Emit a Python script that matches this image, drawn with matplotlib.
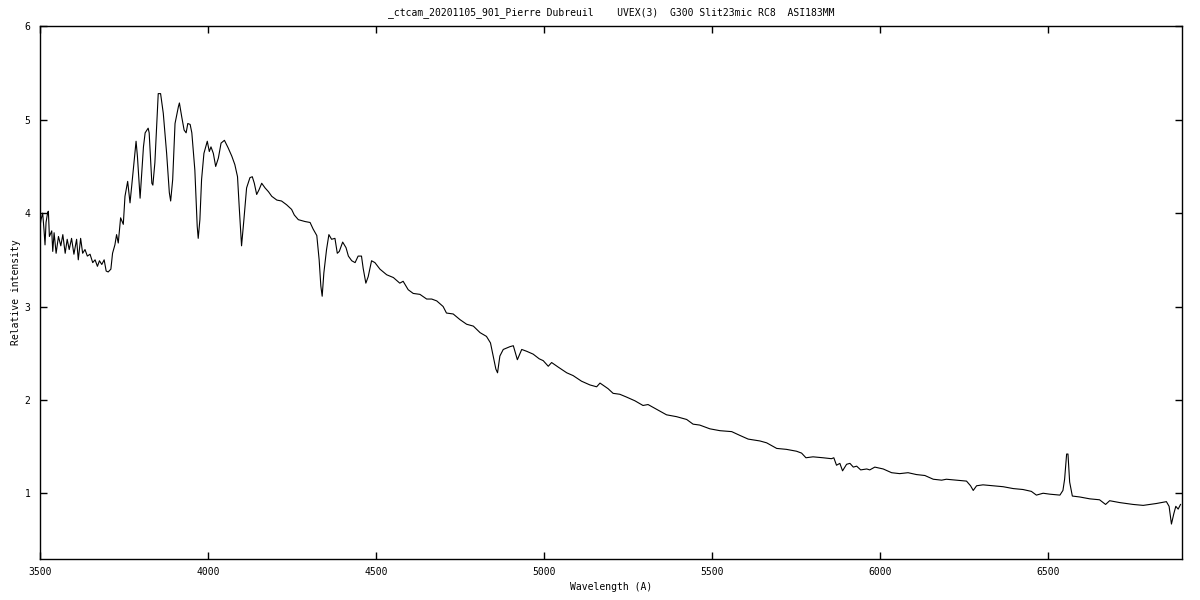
import numpy as np
import matplotlib
matplotlib.use("Agg")
import matplotlib.pyplot as plt

# spectrum (wavelength in A, relative intensity)
wavelength = [
    3500, 3502, 3507, 3511, 3514, 3517, 3522, 3524, 3527, 3534, 3537, 3541,
    3547, 3554, 3561, 3567, 3574, 3580, 3586, 3593, 3600, 3608, 3613, 3620,
    3626, 3633, 3640, 3648, 3656, 3663, 3670, 3676, 3683, 3690, 3696, 3702,
    3710, 3715, 3722, 3727, 3732, 3739, 3747, 3752, 3760, 3767, 3772, 3785,
    3789, 3797, 3807, 3812, 3821, 3824, 3832, 3835, 3841, 3851, 3858, 3866,
    3876, 3884, 3888, 3894, 3901, 3911, 3914, 3921, 3928, 3934, 3939, 3946,
    3951, 3960, 3967, 3970, 3975, 3980, 3987, 3997, 4003, 4008, 4015, 4022,
    4030, 4038, 4048, 4059, 4070, 4079, 4087, 4092, 4099, 4106, 4114, 4124,
    4131, 4137, 4144, 4151, 4159, 4169, 4179, 4189, 4204, 4218, 4233, 4248,
    4256, 4268, 4288, 4303, 4312, 4323, 4330, 4335, 4339, 4344, 4352, 4359,
    4367, 4377, 4384, 4390, 4400, 4410, 4417, 4427, 4437, 4446, 4456, 4461,
    4469, 4476, 4486, 4496, 4511, 4531, 4551, 4570, 4580, 4595, 4610, 4630,
    4650, 4665, 4680, 4699, 4709, 4729, 4749, 4769, 4789, 4809, 4828, 4840,
    4848, 4856, 4861, 4868, 4878, 4898, 4908, 4920, 4933, 4948, 4967, 4985,
    4997, 5012, 5022, 5042, 5067, 5086, 5111, 5136, 5156, 5166, 5190, 5205,
    5225, 5245, 5270, 5294, 5309, 5334, 5364, 5394, 5424, 5443, 5463, 5493,
    5523, 5558, 5582, 5607, 5642, 5662, 5692, 5721, 5751, 5766, 5779, 5800,
    5830, 5855, 5862, 5870, 5880, 5888, 5900, 5910, 5920, 5930, 5942, 5960,
    5969, 5984, 6009, 6034, 6058, 6083, 6108, 6133, 6158, 6183, 6197, 6227,
    6257, 6269, 6277, 6287, 6306, 6336, 6366, 6396, 6425, 6450, 6465, 6485,
    6505, 6535, 6544, 6549, 6555, 6559, 6564, 6572, 6594, 6624, 6653, 6671,
    6683, 6713, 6753, 6783, 6822, 6852, 6860, 6867, 6874, 6880, 6887, 6894,
]
intensity = [
    3.88, 3.93, 4.00, 3.82, 3.66, 3.90, 4.01, 4.02, 3.75, 3.81, 3.59, 3.79,
    3.57, 3.75, 3.65, 3.77, 3.57, 3.72, 3.61, 3.73, 3.56, 3.72, 3.50, 3.73,
    3.57, 3.61, 3.54, 3.56, 3.47, 3.50, 3.43, 3.49, 3.45, 3.50, 3.38, 3.37,
    3.40, 3.57, 3.66, 3.77, 3.68, 3.95, 3.88, 4.18, 4.34, 4.11, 4.29, 4.77,
    4.61, 4.16, 4.71, 4.86, 4.91, 4.86, 4.32, 4.30, 4.54, 5.28, 5.28, 5.07,
    4.64, 4.22, 4.13, 4.36, 4.96, 5.14, 5.18, 5.03, 4.89, 4.86, 4.96, 4.95,
    4.86, 4.46, 3.86, 3.73, 3.93, 4.36, 4.64, 4.77, 4.66, 4.71, 4.64, 4.50,
    4.59, 4.75, 4.78, 4.70, 4.61, 4.52, 4.39, 4.07, 3.65, 3.93, 4.27, 4.38,
    4.39, 4.32, 4.20, 4.25, 4.32, 4.27, 4.23, 4.18, 4.14, 4.13, 4.09, 4.04,
    3.98, 3.93, 3.91, 3.90, 3.83, 3.76, 3.50, 3.22, 3.11, 3.36, 3.61, 3.77,
    3.72, 3.73, 3.57, 3.59, 3.69, 3.63, 3.54, 3.49, 3.47, 3.54, 3.54, 3.41,
    3.25, 3.32, 3.49, 3.47, 3.40, 3.34, 3.31, 3.25, 3.27, 3.18, 3.14, 3.13,
    3.08, 3.08, 3.06, 3.00, 2.93, 2.92, 2.86, 2.81, 2.79, 2.72, 2.68, 2.61,
    2.47, 2.33, 2.29, 2.47, 2.54, 2.57, 2.58, 2.43, 2.54, 2.52, 2.49, 2.44,
    2.42, 2.36, 2.40, 2.35, 2.29, 2.26, 2.20, 2.16, 2.14, 2.18, 2.12, 2.07,
    2.06, 2.03, 1.99, 1.94, 1.95, 1.90, 1.84, 1.82, 1.79, 1.74, 1.73, 1.69,
    1.67, 1.66, 1.62, 1.58, 1.56, 1.54, 1.48, 1.47, 1.45, 1.43, 1.38, 1.39,
    1.38, 1.37, 1.38, 1.30, 1.32, 1.24, 1.31, 1.32, 1.28, 1.29, 1.25, 1.26,
    1.25, 1.28, 1.26, 1.22, 1.21, 1.22, 1.20, 1.19, 1.15, 1.14, 1.15, 1.14,
    1.13, 1.08, 1.03, 1.08, 1.09, 1.08, 1.07, 1.05, 1.04, 1.02, 0.98, 1.00,
    0.99, 0.98, 1.03, 1.15, 1.42, 1.42, 1.12, 0.97, 0.96, 0.94, 0.93, 0.88,
    0.92, 0.90, 0.88, 0.87, 0.89, 0.91, 0.86, 0.67, 0.78, 0.86, 0.83, 0.88,
]

x_ticks = [3500, 4000, 4500, 5000, 5500, 6000, 6500]
y_ticks = [1, 2, 3, 4, 5, 6]

title = "_ctcam_20201105_901_Pierre Dubreuil    UVEX(3)  G300 Slit23mic RC8  ASI183MM"

plt.rcParams['font.family'] = 'DejaVu Sans Mono'
plt.rcParams['font.size'] = 7

fig = plt.figure(figsize=(12, 6), dpi=100)
ax = fig.add_axes([0.0336, 0.069, 0.951, 0.887])

ax.plot(wavelength, intensity, color='black', linewidth=0.8)

ax.set_xlim(3500, 6897)
ax.set_ylim(0.3, 6)
ax.set_xticks(x_ticks)
ax.set_yticks(y_ticks)
ax.tick_params(axis='x', direction='in', length=5, width=1, top=True,
               labelsize=7, pad=6)
ax.tick_params(axis='y', direction='in', length=5, width=1, right=True,
               labelsize=7, pad=7)
for s in ax.spines.values():
    s.set_linewidth(1)

ax.set_title(title, fontsize=7, pad=8)
ax.set_xlabel("Wavelength (A)", fontsize=7, labelpad=4)
ax.set_ylabel("Relative intensity", fontsize=7, labelpad=3)

fig.savefig("out.png", dpi=100)
